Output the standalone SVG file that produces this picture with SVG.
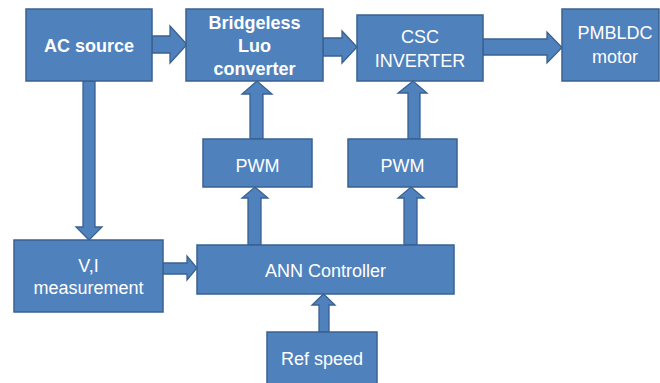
<svg xmlns="http://www.w3.org/2000/svg" width="660" height="383" viewBox="0 0 660 383">
<style>
.box{fill:#4F81BD;stroke:#3A6191;stroke-width:1.5}
.arr{fill:#4F81BD;stroke:#3A6191;stroke-width:1.3;stroke-linejoin:miter}
text{font-family:"Liberation Sans",Arial,sans-serif;font-size:18px;fill:#FFFFFF;text-anchor:middle}
.b{font-weight:bold}
</style>
<rect width="660" height="383" fill="#FFFFFF"/>
<g id="connectors">
<polygon class="arr" points="152,36 170,36 170,26 187,44.5 170,63 170,53 152,53"/>
<polygon class="arr" points="323,38 342,38 342,31 357,47 342,63 342,56 323,56"/>
<polygon class="arr" points="483,39 547,39 547,32 562,47.5 547,63 547,55 483,55"/>
<polygon class="arr" points="83,81 95,81 95,227 102,227 89,240 76,227 83,227"/>
<polygon class="arr" points="163,263 187,263 187,256 197,268 187,280 187,274 163,274"/>
<polygon class="arr" points="248,245 248,198 242,198 255,187 268,198 261,198 261,245"/>
<polygon class="arr" points="250,139 250,94 242,94 257,81 272,94 263,94 263,139"/>
<polygon class="arr" points="404,245 404,198 398,198 411,187 424,198 417,198 417,245"/>
<polygon class="arr" points="408,139 408,93 398,93 413,81 427,93 420,93 420,139"/>
<polygon class="arr" points="319,332 319,305 312,305 323.5,294 335,305 329,305 329,332"/>
</g>
<g id="ac-source">
<rect class="box" x="26" y="9" width="126" height="72"/>
<text class="b" x="89" y="52">AC source</text>
</g>
<g id="bridgeless-luo">
<rect class="box" x="186" y="9" width="137" height="72"/>
<text class="b" x="254.5" y="29">Bridgeless</text>
<text class="b" x="254.5" y="52">Luo</text>
<text class="b" x="254.5" y="75">converter</text>
</g>
<g id="csc-inverter">
<rect class="box" x="357" y="15" width="126" height="66"/>
<text x="420" y="43">CSC</text>
<text x="420" y="67">INVERTER</text>
</g>
<g id="pmbldc-motor">
<rect class="box" x="562" y="9" width="97" height="72"/>
<text x="615" y="39">PMBLDC</text>
<text x="615" y="63">motor</text>
</g>
<g id="pwm1">
<rect class="box" x="203" y="139" width="109" height="48"/>
<text x="257.5" y="172">PWM</text>
</g>
<g id="pwm2">
<rect class="box" x="348" y="139" width="109" height="48"/>
<text x="402.5" y="172">PWM</text>
</g>
<g id="vi-measurement">
<rect class="box" x="14" y="240" width="149" height="72"/>
<text x="88.5" y="272">V,I</text>
<text x="88.5" y="294">measurement</text>
</g>
<g id="ann-controller">
<rect class="box" x="197" y="245" width="257" height="49"/>
<text x="325.5" y="277">ANN Controller</text>
</g>
<g id="ref-speed">
<rect class="box" x="267" y="332" width="110" height="56"/>
<text x="322" y="365">Ref speed</text>
</g>
</svg>
